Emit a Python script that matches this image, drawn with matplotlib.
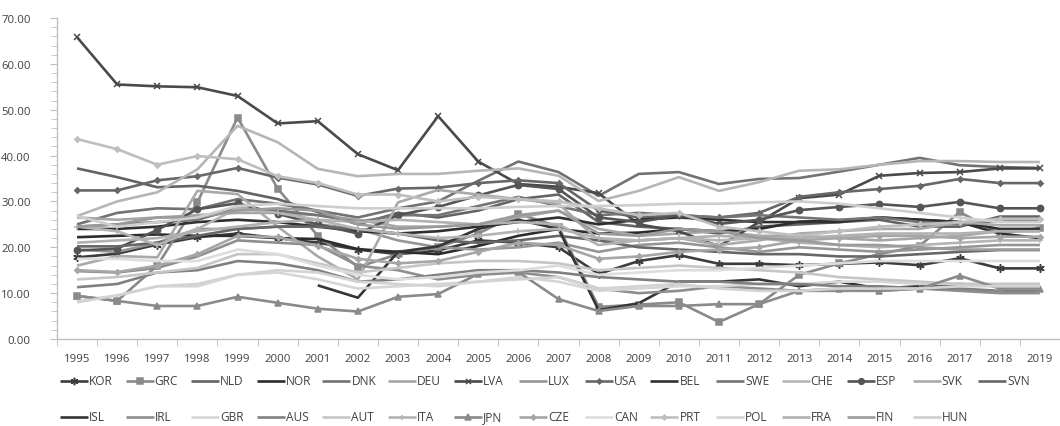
import matplotlib
matplotlib.use("Agg")
import matplotlib.pyplot as plt
from matplotlib.lines import Line2D
from matplotlib.ticker import MultipleLocator, FixedLocator
import numpy as np

plt.rcParams["font.family"] = ["Open Sans", "DejaVu Sans"]

years = [str(y) for y in range(1995, 2020)]

# share values per country, 1995-2019 (None = no data)
KOR = [17.8, 18.6, 20.6, 22.2, 23.0, 22.0, 21.0, 19.5, 18.5, 19.3, 21.5, 21.0, 20.0, 14.2, 17.0, 18.3, 16.4, 16.4, 16.1, 16.4, 16.7, 16.1, 17.6, 15.4, 15.4]
GRC = [9.4, 8.3, 16.0, 29.8, 48.3, 32.8, 22.5, 15.7, 18.5, 20.0, 23.0, 27.3, 24.5, 7.0, 7.5, 8.0, 3.7, 7.6, 14.0, 16.5, 18.5, 20.3, 27.7, 23.0, 24.2]
NLD = [37.2, 35.3, 33.1, 33.4, 32.3, 30.5, 27.7, 25.0, 27.5, 26.5, 28.0, 30.5, 31.5, 25.5, 24.5, 24.0, 23.0, 24.5, 25.0, 25.5, 26.0, 24.5, 24.5, 26.7, 26.7]
NOR = [22.2, 22.5, 22.8, 22.5, 22.5, 22.0, 21.8, 19.6, 19.0, 18.5, 20.3, 22.5, 24.0, 23.0, 23.2, 24.0, 23.5, 24.0, 25.6, 25.8, 26.5, 26.0, 25.5, 24.0, 24.0]
DNK = [25.0, 27.5, 28.5, 28.3, 30.5, 29.5, 28.0, 26.5, 28.5, 30.0, 34.5, 38.7, 36.4, 31.2, 36.0, 36.4, 33.8, 34.9, 35.1, 36.5, 38.0, 39.5, 37.9, 37.5, 37.3]
DEU = [26.5, 26.0, 26.5, 27.0, 27.5, 27.5, 27.0, 26.0, 24.5, 24.5, 25.0, 26.5, 28.0, 24.0, 22.5, 23.0, 23.5, 22.5, 22.5, 22.0, 21.5, 22.0, 22.5, 23.5, 23.5]
LVA = [65.8, 55.5, 55.1, 54.9, 53.0, 47.0, 47.5, 40.3, 36.8, 48.6, 38.7, 33.8, 33.2, 31.8, 25.0, 23.5, 20.2, 25.5, 30.7, 31.5, 35.6, 36.2, 36.4, 37.2, 37.2]
LUX = [19.5, 19.0, 21.0, 24.0, 24.0, 24.5, 25.0, 24.0, 21.5, 20.0, 19.5, 20.0, 21.0, 19.0, 20.5, 21.0, 20.0, 19.0, 20.0, 19.5, 19.0, 19.5, 20.0, 20.5, 20.5]
USA = [32.4, 32.4, 34.6, 35.5, 37.3, 35.2, 33.7, 31.2, 32.8, 33.0, 34.0, 34.6, 34.0, 28.0, 26.5, 27.0, 26.5, 27.5, 31.0, 32.0, 32.7, 33.4, 34.9, 34.0, 34.0]
BEL = [24.0, 24.0, 24.5, 25.5, 26.0, 25.5, 24.5, 23.5, 23.0, 23.5, 24.5, 25.5, 26.5, 25.0, 26.0, 26.5, 26.0, 25.5, 25.5, 25.5, 26.5, 26.0, 25.5, 23.0, 22.0]
SWE = [24.5, 25.0, 25.5, 26.0, 28.5, 28.0, 27.0, 25.5, 27.0, 27.0, 29.0, 31.0, 29.0, 27.0, 27.5, 27.0, 26.5, 27.0, 26.5, 26.0, 26.5, 25.5, 25.0, 25.8, 25.8]
CHE = [26.8, 30.0, 32.0, 37.0, 46.5, 42.9, 37.1, 35.5, 36.0, 36.0, 36.7, 37.2, 35.6, 30.1, 32.3, 35.3, 32.3, 34.2, 36.7, 37.0, 38.0, 38.8, 38.8, 38.6, 38.6]
ESP = [19.3, 19.7, 23.8, 28.3, 29.6, 27.3, 25.0, 23.0, 27.0, 28.8, 31.3, 33.6, 32.7, 26.5, 25.5, 27.0, 25.1, 26.0, 28.1, 28.8, 29.4, 28.8, 29.9, 28.5, 28.5]
SVK = [16.0, 18.1, 17.8, 32.3, 31.6, 24.5, 18.0, 13.0, 29.8, 32.5, 31.5, 30.5, 29.5, 21.5, 21.5, 22.0, 20.5, 21.5, 23.0, 23.5, 24.0, 24.0, 25.5, 24.8, 24.8]
SVN = [20.2, 20.2, 21.0, 22.5, 24.0, 24.5, 24.5, 24.0, 23.0, 21.5, 21.0, 21.5, 22.5, 21.5, 20.0, 19.5, 19.0, 18.5, 18.5, 18.0, 18.0, 18.5, 19.0, 19.4, 19.4]
ISL = [None, None, None, None, None, None, 11.7, 9.0, 19.0, 20.2, 24.0, 26.0, 24.0, 6.3, 7.8, 12.5, 12.5, 13.0, 11.5, 12.5, 11.0, 11.5, 12.0, 11.5, 11.5]
IRL = [14.8, 14.5, 15.5, 18.0, 21.5, 21.0, 20.5, 16.0, 15.0, 13.0, 14.0, 14.5, 13.5, 11.0, 10.0, 10.5, 11.5, 11.0, 10.5, 10.5, 10.5, 11.0, 10.5, 10.0, 10.0]
GBR = [8.3, 9.5, 11.5, 11.5, 14.0, 14.5, 13.0, 11.0, 11.5, 12.0, 12.5, 13.5, 12.5, 10.5, 11.0, 11.5, 11.5, 12.0, 12.0, 12.5, 12.5, 12.0, 12.0, 12.0, 12.0]
AUS = [11.3, 12.0, 14.5, 15.0, 17.0, 16.5, 15.0, 12.5, 13.0, 14.0, 15.0, 15.0, 14.5, 13.5, 13.0, 12.5, 12.5, 12.0, 12.0, 11.5, 11.5, 11.0, 11.0, 10.5, 10.5]
AUT = [13.0, 13.5, 14.5, 15.5, 18.5, 18.5, 16.5, 14.5, 15.5, 16.5, 17.0, 17.0, 16.5, 15.0, 15.5, 16.0, 15.5, 15.0, 14.5, 13.5, 13.0, 12.5, 12.0, 12.0, 12.0]
ITA = [24.5, 23.5, 20.5, 24.0, 28.5, 27.5, 26.0, 24.0, 23.0, 22.0, 22.5, 23.5, 24.0, 22.0, 21.5, 22.0, 21.5, 22.0, 21.0, 20.5, 20.0, 20.5, 21.0, 21.5, 21.5]
JPN = [9.4, 8.3, 7.2, 7.2, 9.2, 7.9, 6.6, 6.0, 9.2, 9.8, 14.2, 14.6, 8.7, 6.1, 7.2, 7.2, 7.6, 7.6, 10.5, 11.0, 10.5, 11.0, 13.8, 11.0, 11.0]
CZE = [15.0, 14.6, 16.0, 18.5, 22.5, 22.2, 20.3, 17.5, 16.5, 17.0, 19.0, 21.0, 20.5, 17.5, 18.0, 19.0, 19.5, 20.0, 21.5, 22.0, 22.5, 22.5, 22.0, 22.3, 22.3]
CAN = [17.5, 17.5, 17.0, 17.0, 19.5, 18.5, 16.0, 14.0, 13.0, 13.5, 14.5, 15.0, 16.0, 14.0, 14.5, 15.0, 15.0, 15.5, 16.0, 16.5, 17.0, 17.0, 17.0, 17.0, 17.0]
PRT = [43.6, 41.4, 38.0, 39.9, 39.2, 35.5, 34.0, 31.5, 31.5, 30.0, 31.0, 30.5, 30.0, 28.5, 27.0, 27.5, 24.5, 23.5, 22.5, 23.5, 24.5, 25.0, 25.5, 26.2, 26.2]
POL = [8.0, 9.5, 11.5, 12.0, 14.0, 15.0, 14.5, 12.5, 12.0, 11.5, 12.5, 13.0, 13.5, 11.0, 11.5, 12.0, 11.0, 10.5, 10.5, 11.0, 11.0, 11.0, 11.5, 11.5, 11.5]
FRA = [21.0, 21.5, 22.0, 23.5, 24.5, 25.5, 26.0, 25.5, 26.0, 25.5, 25.0, 25.5, 25.0, 20.5, 21.5, 22.0, 22.5, 22.0, 22.0, 22.5, 23.0, 23.0, 23.0, 23.5, 23.5]
FIN = [24.5, 25.0, 26.5, 26.5, 28.0, 28.5, 28.0, 25.0, 24.0, 24.5, 25.0, 27.0, 28.0, 23.0, 22.5, 24.0, 23.5, 22.0, 21.5, 20.5, 20.5, 20.0, 19.5, 19.5, 19.5]
HUN = [26.8, 24.5, 25.5, 26.5, 29.0, 29.5, 29.0, 28.5, 28.5, 28.5, 28.5, 28.8, 29.0, 29.0, 29.2, 29.5, 29.5, 29.8, 30.0, 29.5, 28.5, 27.5, 26.5, 25.5, 25.5]

countries = ["KOR", "GRC", "NLD", "NOR", "DNK", "DEU", "LVA", "LUX", "USA", "BEL",
             "SWE", "CHE", "ESP", "SVK", "SVN", "ISL", "IRL", "GBR", "AUS", "AUT",
             "ITA", "JPN", "CZE", "CAN", "PRT", "POL", "FRA", "FIN", "HUN"]
values = [KOR, GRC, NLD, NOR, DNK, DEU, LVA, LUX, USA, BEL, SWE, CHE, ESP, SVK, SVN,
          ISL, IRL, GBR, AUS, AUT, ITA, JPN, CZE, CAN, PRT, POL, FRA, FIN, HUN]

# grey shade and marker per series
styles = {
    "KOR": ("#3c3c3c", (6, 2, 0)), "GRC": ("#8a8a8a", "s"), "NLD": ("#636363", None),
    "NOR": ("#2c2c2c", None), "DNK": ("#727272", None), "DEU": ("#a6a6a6", None),
    "LVA": ("#4a4a4a", "x"), "LUX": ("#969696", None), "USA": ("#676767", "D"),
    "BEL": ("#303030", None), "SWE": ("#747474", None), "CHE": ("#b6b6b6", None),
    "ESP": ("#555555", "o"), "SVK": ("#aaaaaa", None), "SVN": ("#676767", None),
    "ISL": ("#353535", None), "IRL": ("#8e8e8e", None), "GBR": ("#d6d6d6", None),
    "AUS": ("#808080", None), "AUT": ("#c6c6c6", None), "ITA": ("#b4b4b4", "+"),
    "JPN": ("#8a8a8a", "^"), "CZE": ("#a6a6a6", "D"), "CAN": ("#dddddd", None),
    "PRT": ("#bebebe", "D"), "POL": ("#d3d3d3", None), "FRA": ("#b1b1b1", None),
    "FIN": ("#9b9b9b", None), "HUN": ("#cecece", None),
}
marker_size = {"s": 4.3, "o": 4.5, "D": 2.8, "^": 4.2, "x": 4.0, "+": 4.0, (6, 2, 0): 6.0}

W, H = 1060, 427
fig = plt.figure(figsize=(W / 100, H / 100), dpi=100)
ax = fig.add_axes([57 / W, 1 - 340 / H, 1 - 57 / W, (340 - 19) / H])

x = np.arange(len(years))


def style_kw(name, ms_scale=1.0):
    color, marker = styles[name]
    kw = dict(color=color, lw=1.9, solid_joinstyle="round", solid_capstyle="butt")
    if marker is not None:
        kw.update(marker=marker, markersize=marker_size[marker] * ms_scale,
                  markerfacecolor=color, markeredgecolor=color, markeredgewidth=1.1)
    return kw


for name, vals in zip(countries, values):
    y = np.array([np.nan if v is None else v for v in vals], dtype=float)
    ax.plot(x, y, label=name, **style_kw(name))

ax.set_xlim(-0.5, len(years) - 0.5)
ax.set_ylim(0, 70)

ax.set_xticks(x)
ax.set_xticklabels(years)
ax.xaxis.set_minor_locator(FixedLocator(np.arange(-0.5, len(years), 1.0)))
ax.tick_params(axis="x", which="major", length=0, pad=10, labelsize=8.2, labelcolor="#404040")
ax.tick_params(axis="x", which="minor", length=5, color="#bfbfbf", direction="out")

ax.yaxis.set_minor_locator(MultipleLocator(2))
ax.set_yticks(np.arange(0, 71, 10))
ax.set_yticklabels([f"{v:.2f}" for v in np.arange(0, 71, 10)])
ax.tick_params(axis="y", which="major", length=5, color="#bfbfbf", pad=14,
               labelsize=8.2, labelcolor="#404040")
ax.tick_params(axis="y", which="minor", length=4, color="#bfbfbf")

for side in ("top", "right"):
    ax.spines[side].set_visible(False)
for side in ("left", "bottom"):
    ax.spines[side].set_color("#bfbfbf")
    ax.spines[side].set_linewidth(1.0)

# legend in two rows with equal-width slots
slot = 65.6
row_y = [382, 418]
per_row = 15
for i, name in enumerate(countries):
    row, col = divmod(i, per_row)
    x0 = 60 + col * slot
    yy = 1 - row_y[row] / H
    kw = style_kw(name, ms_scale=0.9)
    xs = [x0 / W, (x0 + 28) / W]
    fig.add_artist(Line2D(xs, [yy, yy], transform=fig.transFigure,
                          **{k: v for k, v in kw.items() if not k.startswith("marker")}))
    if "marker" in kw:
        fig.add_artist(Line2D([(x0 + 14) / W], [yy], transform=fig.transFigure,
                              linestyle="none", **{k: v for k, v in kw.items()
                                                    if k.startswith("marker") or k == "color"}))
    fig.text((x0 + 29) / W, yy, name, fontsize=8.6, color="#404040",
             ha="left", va="center")

fig.savefig("out.png", dpi=100)
